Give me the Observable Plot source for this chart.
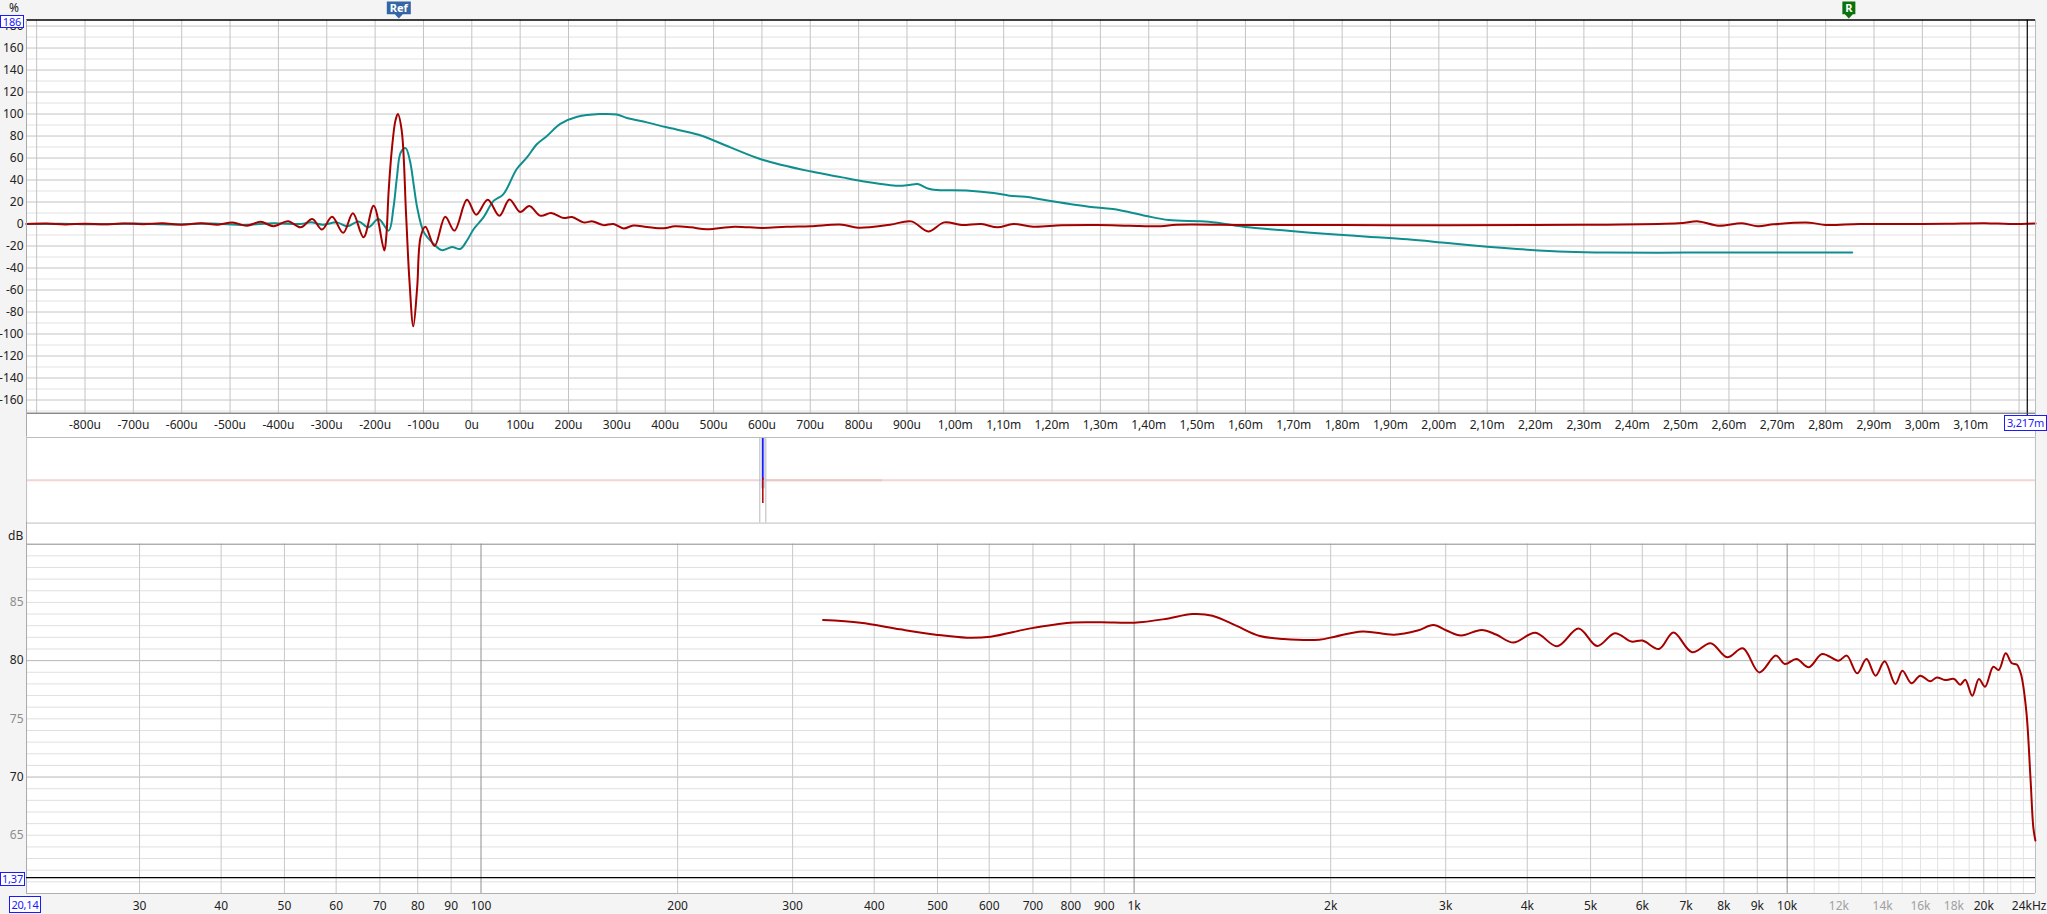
<!DOCTYPE html>
<html><head><meta charset="utf-8">
<script src="https://cdn.jsdelivr.net/npm/d3@7"></script>
<script src="https://cdn.jsdelivr.net/npm/@observablehq/plot@0.6"></script>
<style>
html,body{margin:0;padding:0;background:#f4f4f4;}
#wrap{position:relative;width:2047px;height:914px;overflow:hidden;background:#f4f4f4;font-family:"Noto Sans",sans-serif;}
#white{position:absolute;left:26px;top:19.5px;width:2009px;height:874px;background:#fff;}
.pane{position:absolute;left:0;}
.box{position:absolute;border:1px solid #1a1aff;color:#1a1aff;background:#fff;font-size:11px;line-height:12px;text-align:center;box-sizing:border-box;white-space:nowrap;overflow:visible;letter-spacing:-0.2px;}
.lbl{position:absolute;font-size:12px;line-height:13px;color:#222;}
</style></head><body>
<div id="wrap">
<div id="white"></div>
<div id="p1" class="pane" style="top:0"></div>
<div id="p2" class="pane" style="top:436.7px"></div>
<div id="p3" class="pane" style="top:522.3px"></div>
<div class="lbl" style="left:9px;top:1px">%</div>
<div class="lbl" style="left:8px;top:529px">dB</div>
<div class="box" style="left:0;top:14.5px;width:24px;height:13px">186</div>
<div class="box" style="left:2004px;top:415px;width:43px;height:16px;line-height:14px">3,217m</div>
<div class="box" style="left:0;top:872px;width:25px;height:14px;line-height:12px">1,37</div>
<div class="box" style="left:9px;top:895.5px;width:32px;height:17px;line-height:15px">20,14</div>
</div>
<script>
// ---------- data ----------
const timeDomain = [-921, 3234];          // microseconds
const pctDomain = [-172, 185.5];          // %
const timeTickValues = [-800,-700,-600,-500,-400,-300,-200,-100,0,100,200,300,400,500,600,700,800,900,1000,1100,1200,1300,1400,1500,1600,1700,1800,1900,2000,2100,2200,2300,2400,2500,2600,2700,2800,2900,3000,3100];
const timeTickLabels = ["-800u","-700u","-600u","-500u","-400u","-300u","-200u","-100u","0u","100u","200u","300u","400u","500u","600u","700u","800u","900u","1,00m","1,10m","1,20m","1,30m","1,40m","1,50m","1,60m","1,70m","1,80m","1,90m","2,00m","2,10m","2,20m","2,30m","2,40m","2,50m","2,60m","2,70m","2,80m","2,90m","3,00m","3,10m"];
const timeGrid = [-900,-800,-700,-600,-500,-400,-300,-200,-100,0,100,200,300,400,500,600,700,800,900,1000,1100,1200,1300,1400,1500,1600,1700,1800,1900,2000,2100,2200,2300,2400,2500,2600,2700,2800,2900,3000,3100,3200];
const pctTickValues = [-160,-140,-120,-100,-80,-60,-40,-20,0,20,40,60,80,100,120,140,160,180];
const pctMinorGrid = [-170,-150,-130,-110,-90,-70,-50,-30,-10,10,30,50,70,90,110,130,150,170];
const cursorTime = [3217];
const refMarkerTime = [-151];
const rMarkerTime = [2848];

// impulse response (red), [time us, %]
const impulseRed = [[-921,0],[-880,0.4],[-840,-0.4],[-800,0.3],[-760,-0.3],[-720,0.5],[-680,-0.2],[-640,0.6],[-600,-0.6],[-560,0.8],[-525,-0.6],[-495,1.4],[-465,-1.5],[-437,2],[-410,-2],[-380,2.5],
[-354,-3],[-330,4.5],[-310,-5],[-289,6.6],[-266,-8],[-246,9.7],[-224,-12],[-203,16.6],[-181,-24],[-177,-12],[-172,30],[-165,69.6],[-158,94],[-153,100],[-145,85],[-136,9],[-129,-51.5],[-121,-93],[-113,-57.6],[-106,-12],[-96,-2.5],[-77,-20],[-55,6.6],[-36,-6],[-10,22],[9,8.5],[33,22],[57,7.5],[78,22.4],[100,11],[119,16.3],[142,7.5],[164,10],[190,5.4],[207,6.4],[231,1.5],[250,2.4],[272,-1],[293,0],[314,-4],[334,-1.3],[362,-2.6],[397,-3.9],
[420,-2],[453,-3],[486,-4.8],[543,-2.4],[601,-3.6],[650,-2.5],[700,-2],[766,-0.6],[799,-3.3],[865,-0.6],[909,2.4],[944,-6.7],[977,1.5],[1013,-0.9],[1054,0],[1087,-3],[1120,0],[1161,-2.4],[1220,-1.2],[1293,-0.9],[1360,-1.5],[1425,-2],[1458,-0.6],[1606,-0.9],[1800,-1],[2018,-1.2],[2200,-0.9],[2347,-0.6],[2496,0.6],[2537,2.4],[2578,-1.5],[2627,0.6],[2660,-2],[2693,-0.3],[2767,1.2],[2800,-0.9],[2870,0],[2954,0],[3050,0.3],[3130,0.8],[3180,0],[3234,0.5]];

// step response (teal), [time us, %]
const stepTeal = [[-921,0],[-850,0.3],[-780,-0.3],[-700,0.4],[-620,-0.4],[-540,0.5],[-470,-0.8],[-410,0.8],[-354,0],[-333,1.5],[-308,-0.6],[-279,1.5],[-258,-2.1],[-234,2.4],[-214,-3],[-193,4.5],[-172,-6],[-162,15],[-155,42],[-147,65],[-137,69],[-128,57.5],[-120,35],[-113,15],[-99,-7.6],[-79,-18],[-62,-23.7],[-41,-21],[-24,-22.7],[-10,-15],[4,-4.5],[24,6],[45,21],[65,27],[93,50],[114,60.5],[135,72.7],[156,80.3],[183,91],[218,97.5],[265,100],[300,99.5],[321,96.4],[362,92.4],
[403,87.9],[469,81.2],[535,69.7],[601,58.5],[700,47.9],[766,42.4],[815,38.5],[881,34.8],[905,35.5],[922,36.4],[945,32],[963,30.9],[1029,30.3],[1079,28.2],[1112,25.8],[1145,24.8],[1194,21.2],[1276,15.8],[1326,13.6],[1392,7.6],[1441,3.6],[1524,2.1],[1606,-3],[1688,-6.1],[1771,-9.1],[1853,-11.5],[1935,-13.9],[2018,-17.3],[2100,-20.6],[2183,-23.3],[2265,-25.2],[2347,-26],[2512,-26],[2677,-26],[2855,-26]];

// overview strip (ms)
const overviewDomain = [-366, 634];
const overviewLevel = [-100, 100];
const overviewWindow = [-1, 2];
const overviewPeakTime = [0.5];
const overviewBlueTop = [100];
const overviewRedBottom = [-54];
const overviewTail = [[2, 60]];

// frequency response, [Hz, dB]
const freqDomain = [20.14, 24000];
const dbDomain = [60, 90];
const freqResponse = [[334,83.49],[381,83.26],[438,82.69],[497,82.23],[555,81.97],[603,82.06],[694,82.77],[798,83.26],[892,83.29],[1000,83.26],[1115,83.57],[1229,84.0],[1318,83.86],[1433,83.0],[1558,82.11],[1694,81.86],[1920,81.8],[2030,82.06],[2238,82.51],[2502,82.23],[2718,82.59],[2872,83.05],[3009,82.59],[3167,82.16],[3406,82.64],[3583,82.24],[3808,81.55],[4114,82.39],[4444,81.24],[4793,82.76],[5117,81.26],[5448,82.36],[5772,81.64],[6004,81.72],[6366,81.0],[6697,82.41],[7152,80.72],[7636,81.49],[8093,80.29],[8553,81.06],[9066,78.99],[9609,80.43],[9920,79.71],[10333,80.14],[10795,79.43],[11310,80.57],[11987,80.0],[12340,80.43],[12800,78.91],[13227,80.14],[13657,78.71],[14101,79.94],[14646,77.99],[15014,79.14],[15502,78.05],[15989,78.71],[16557,78.22],[16947,78.56],[17443,78.33],[18012,78.42],[18410,77.93],[18737,78.36],[19205,76.98],[19658,78.42],[20092,77.76],[20684,79.48],[21083,79.2],[21608,80.63],[22085,79.77],[22470,79.66],[22803,78.85],[23235,75.69],[23580,69.94],[23823,65.63],[23993,64.54]];
const freqTickValues = [30,40,50,60,70,80,90,100,200,300,400,500,600,700,800,900,1000,2000,3000,4000,5000,6000,7000,8000,9000,10000,12000,14000,16000,18000,20000];
const freqTickLabels = ["30","40","50","60","70","80","90","100","200","300","400","500","600","700","800","900","1k","2k","3k","4k","5k","6k","7k","8k","9k","10k","12k","14k","16k","18k","20k"];
const freqEndTick = [24000];
const freqEndLabel = "24kHz";
const freqTickMuted = [12000,14000,16000,18000];
const freqGridDark = [100,1000,10000];
const freqGridMid = [30,40,50,60,70,80,90,200,300,400,500,600,700,800,900,2000,3000,4000,5000,6000,7000,8000,9000,20000];
const freqGridLight = [11000,12000,13000,14000,15000,16000,17000,18000,19000,21000,22000,23000];
const dbTickValues = [65,70,75,80,85];
const dbTickMuted = [65,75,85];
const dbMajorGrid = [70,80];
const dbMinorGrid = [61,62,63,64,65,66,67,68,69,71,72,73,74,75,76,77,78,79,81,82,83,84,85,86,87,88,89];
const dbCursor = [61.37];

// ---------- helpers ----------
const FONT = '"Noto Sans", sans-serif';
const baseStyle = {background:"transparent", overflow:"visible", fontFamily:FONT, fontSize:"12px", color:"#222"};
function makeTag(hw){
  return {draw(ctx){
    ctx.moveTo(-hw,-6.5); ctx.lineTo(hw,-6.5); ctx.lineTo(hw,6.2);
    ctx.lineTo(4,6.2); ctx.lineTo(0,10.5); ctx.lineTo(-4,6.2); ctx.lineTo(-hw,6.2); ctx.closePath();
  }};
}
const red = impulseRed.map(([t,v])=>({t,v}));
const teal = stepTeal.map(([t,v])=>({t,v}));
const fr = freqResponse.map(([f,db])=>({f,db}));
const idx = n => d3.range(n);

// ---------- top: impulse / step ----------
const p1 = Plot.plot({
  width:2047, height:437, marginLeft:26, marginRight:12, marginTop:19.5, marginBottom:24.3,
  x:{domain:timeDomain, axis:null}, y:{domain:pctDomain, axis:null},
  style:baseStyle,
  marks:[
    Plot.ruleY(pctMinorGrid, {stroke:"#e2e2e2", strokeWidth:1}),
    Plot.ruleY(pctTickValues, {stroke:"#c4c4c4", strokeWidth:1}),
    Plot.ruleX(timeGrid, {stroke:"#c4c4c4", strokeWidth:1}),
    Plot.line(teal, {x:"t", y:"v", stroke:"#0e8f8e", strokeWidth:2, curve:"catmull-rom"}),
    Plot.line(red, {x:"t", y:"v", stroke:"#a50000", strokeWidth:2, curve:"catmull-rom"}),
    Plot.ruleX(cursorTime, {stroke:"#000", strokeWidth:1.2, insetBottom:-10}),
    Plot.ruleY([pctDomain[1]], {stroke:"#000", strokeWidth:1.3}),
    Plot.ruleY([pctDomain[0]], {stroke:"#555", strokeWidth:1}),
    Plot.ruleX([timeDomain[0]], {stroke:"#aaa", insetBottom:-24}),
    Plot.ruleX([timeDomain[1]], {stroke:"#bbb", insetBottom:-24}),
    Plot.text(idx(pctTickValues.length), {y:i=>pctTickValues[i], text:i=>String(pctTickValues[i]), frameAnchor:"left", textAnchor:"end", dx:-3, fill:"#222", fontSize:12}),
    Plot.text(idx(timeTickValues.length), {x:i=>timeTickValues[i], text:i=>timeTickLabels[i], frameAnchor:"bottom", lineAnchor:"middle", dy:11.8, fill:"#222", fontSize:12}),
    Plot.dot(refMarkerTime, {x:d=>d, frameAnchor:"top", dy:-12, symbol:makeTag(12), r:5, fill:"#3466a5", stroke:"none"}),
    Plot.text(refMarkerTime, {x:d=>d, frameAnchor:"top", lineAnchor:"middle", dy:-12, text:()=>"Ref", fill:"#fff", fontWeight:"bold", fontSize:11}),
    Plot.dot(rMarkerTime, {x:d=>d, frameAnchor:"top", dy:-12, symbol:makeTag(6.5), r:5, fill:"#0a720a", stroke:"none"}),
    Plot.text(rMarkerTime, {x:d=>d, frameAnchor:"top", lineAnchor:"middle", dy:-12, text:()=>"R", fill:"#fff", fontWeight:"bold", fontSize:11})
  ]
});
document.getElementById("p1").appendChild(p1);

// ---------- middle: overview strip ----------
const p2 = Plot.plot({
  width:2047, height:85.6, marginLeft:26, marginRight:12, marginTop:0, marginBottom:0,
  x:{domain:overviewDomain, axis:null}, y:{domain:overviewLevel, axis:null},
  style:baseStyle,
  marks:[
    Plot.ruleY([0], {stroke:"#f1d4d4", strokeWidth:2}),
    Plot.ruleY([0], {x1:d=>overviewTail[0][0], x2:d=>overviewTail[0][1], stroke:"#ebc6c6", strokeWidth:2}),
    Plot.ruleX(overviewWindow, {stroke:"#b9b9b9", strokeWidth:1}),
    Plot.ruleX(overviewPeakTime, {y1:-20, y2:overviewBlueTop[0], stroke:"#c9cff5", strokeWidth:4}),
    Plot.ruleX(overviewPeakTime, {y1:0, y2:overviewBlueTop[0], stroke:"#1010ff", strokeWidth:1.5}),
    Plot.ruleX(overviewPeakTime, {y1:5, y2:overviewRedBottom[0], stroke:"#b00000", strokeWidth:1.5}),
    Plot.frame({stroke:"#bdbdbd"})
  ]
});
document.getElementById("p2").appendChild(p2);

// ---------- bottom: frequency response ----------
const p3 = Plot.plot({
  width:2047, height:391.7, marginLeft:26, marginRight:12, marginTop:21.7, marginBottom:20.7,
  x:{type:"log", domain:freqDomain, axis:null}, y:{domain:dbDomain, axis:null},
  style:baseStyle,
  marks:[
    Plot.ruleY(dbMinorGrid, {stroke:"#e0e0e0"}),
    Plot.ruleY(dbMajorGrid, {stroke:"#b6b6b6"}),
    Plot.ruleX(freqGridLight, {stroke:"#e2e2e2"}),
    Plot.ruleX(freqGridMid, {stroke:"#c8c8c8"}),
    Plot.ruleX(freqGridDark, {stroke:"#8e8e8e"}),
    Plot.ruleY([dbDomain[1]], {stroke:"#8a8a8a"}),
    Plot.ruleY([dbDomain[0]], {stroke:"#b0b0b0"}),
    Plot.ruleX([freqDomain[0]], {stroke:"#aaa", insetTop:-22}),
    Plot.ruleX([freqDomain[1]], {stroke:"#bbb", insetTop:-22}),
    Plot.line(fr, {x:"f", y:"db", stroke:"#a50000", strokeWidth:2, curve:"catmull-rom"}),
    Plot.ruleY(dbCursor, {stroke:"#000", strokeWidth:1.2}),
    Plot.text(idx(dbTickValues.length), {y:i=>dbTickValues[i], text:i=>String(dbTickValues[i]), frameAnchor:"left", textAnchor:"end", dx:-3, fill:i=>dbTickMuted.includes(dbTickValues[i])?"#8c8c8c":"#222", fontSize:12}),
    Plot.text(idx(freqTickValues.length), {x:i=>freqTickValues[i], text:i=>freqTickLabels[i], frameAnchor:"bottom", lineAnchor:"middle", dy:12.7, fill:i=>freqTickMuted.includes(freqTickValues[i])?"#a0a0a0":"#222", fontSize:12}),
    Plot.text(freqEndTick, {x:d=>d, text:()=>freqEndLabel, frameAnchor:"bottom", lineAnchor:"middle", textAnchor:"end", dx:11, dy:12.7, fill:"#222", fontSize:12})
  ]
});
document.getElementById("p3").appendChild(p3);
// keep boxes on top
document.querySelectorAll(".box").forEach(b=>document.getElementById("wrap").appendChild(b));
</script>
</body></html>
